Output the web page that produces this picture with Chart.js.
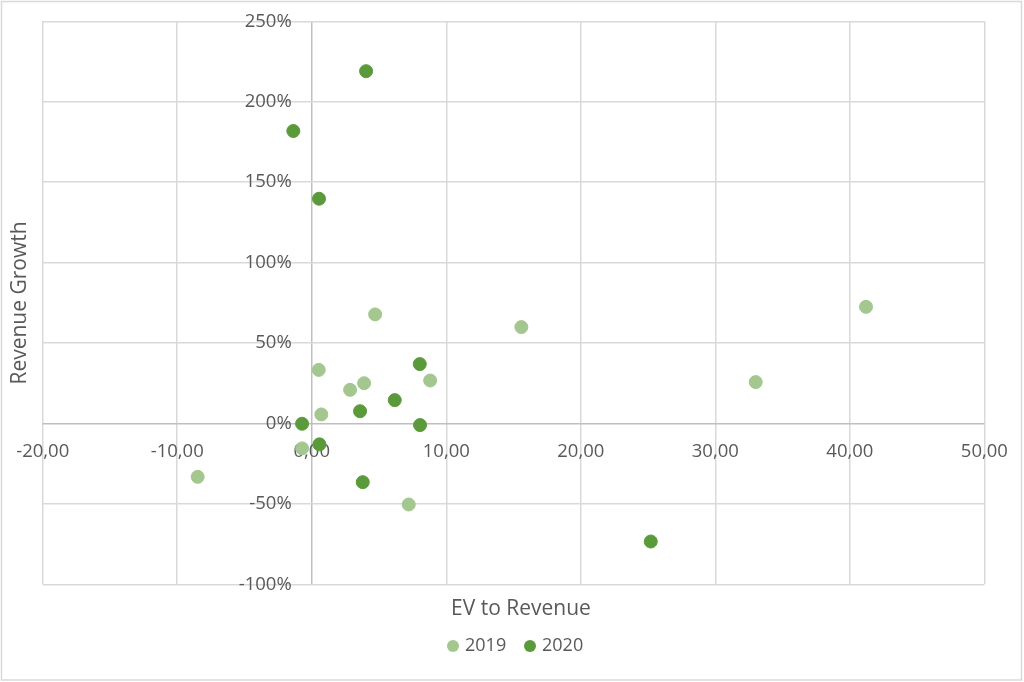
<!DOCTYPE html>
<html>
<head>
<meta charset="utf-8">
<script src="https://cdn.jsdelivr.net/npm/chart.js@4"></script>
<style>
  html, body { margin: 0; padding: 0; background: #fff; }
  canvas { display: block; }
</style>
</head>
<body>
<canvas id="chart" width="1024" height="682"></canvas>
<script>
// values
const ev2019 = [4.71, 0.52, 2.85, 3.89, 8.8, 0.71, -0.72, -8.48, 7.21, 15.58, 33.0, 41.2];
const growth2019 = [67.8, 33.3, 20.9, 25.0, 26.7, 5.6, -15.5, -33.2, -50.4, 59.9, 25.7, 72.5];
const ev2020 = [4.04, -1.37, 0.54, -0.72, 0.57, 3.59, 6.17, 8.03, 8.05, 3.79, 25.2];
const growth2020 = [219, 181.8, 139.7, -0.2, -13, 7.6, 14.5, 36.9, -1, -36.5, -73.4];

const seriesNames = ['2019', '2020'];
const xTitle = 'EV to Revenue';
const yTitle = 'Revenue Growth';

const light = '#A3C78F';
const dark = '#5B9A3A';
const textColor = '#595959';
const gridColor = '#D9D9D9';
const zeroColor = '#BFBFBF';
const font = 'Open Sans';

const toPoints = (xs, ys) => xs.map((x, i) => ({ x: x, y: ys[i] }));

// axis titles, legend and outer border
const extras = {
  id: 'extras',
  afterDraw(chart) {
    const ctx = chart.ctx;
    ctx.save();
    ctx.strokeStyle = gridColor;
    ctx.lineWidth = 1.5;
    ctx.strokeRect(1.5, 1.5, 1020, 678.5);

    ctx.fillStyle = textColor;
    ctx.font = '21px "' + font + '"';
    ctx.textAlign = 'center';
    ctx.textBaseline = 'middle';
    ctx.fillText(xTitle, 521, 609);

    ctx.translate(20, 303);
    ctx.rotate(-Math.PI / 2);
    ctx.fillText(yTitle, 0, 0);
    ctx.restore();

    // legend
    ctx.save();
    ctx.font = '18px "' + font + '"';
    ctx.textBaseline = 'middle';
    ctx.textAlign = 'left';
    const items = [
      { name: seriesNames[0], color: light, cx: 453, tx: 465 },
      { name: seriesNames[1], color: dark, cx: 530, tx: 542 }
    ];
    items.forEach(it => {
      ctx.fillStyle = it.color;
      ctx.beginPath();
      ctx.arc(it.cx, 646, 6, 0, Math.PI * 2);
      ctx.fill();
      ctx.fillStyle = textColor;
      ctx.fillText(it.name, it.tx, 646);
    });
    ctx.restore();
  }
};

const zeroGrid = c => (c.tick && c.tick.value === 0 ? zeroColor : gridColor);

new Chart(document.getElementById('chart'), {
  type: 'scatter',
  data: {
    datasets: [
      {
        label: seriesNames[0],
        data: toPoints(ev2019, growth2019),
        backgroundColor: light,
        borderColor: light,
        pointRadius: 6.5,
        order: 1
      },
      {
        label: seriesNames[1],
        data: toPoints(ev2020, growth2020),
        backgroundColor: dark,
        borderColor: dark,
        pointRadius: 6.5,
        order: 0
      }
    ]
  },
  options: {
    responsive: false,
    animation: false,
    devicePixelRatio: 1,
    layout: {
      padding: { left: 42.7, right: 39.6, top: 21.3, bottom: 97.7 }
    },
    plugins: {
      legend: { display: false },
      tooltip: { enabled: false }
    },
    scales: {
      x: {
        type: 'linear',
        min: -20,
        max: 50,
        // labels hang a bit below the zero line, like the original
        position: { y: -10.8 },
        ticks: {
          stepSize: 10,
          color: textColor,
          font: { family: font, size: 18.5 },
          padding: 0,
          callback: v => v.toFixed(2).replace('.', ',')
        },
        grid: { color: zeroGrid, lineWidth: 1.5, drawTicks: false },
        border: { display: false }
      },
      y: {
        type: 'linear',
        min: -100,
        max: 250,
        // labels sit a little left of the zero line, like the original
        position: { x: -1.49 },
        ticks: {
          stepSize: 50,
          color: textColor,
          font: { family: font, size: 18.5 },
          padding: 0,
          callback: v => v + '%'
        },
        grid: { color: zeroGrid, lineWidth: 1.5, drawTicks: false },
        border: { display: false }
      }
    }
  },
  plugins: [extras]
});
</script>
</body>
</html>
